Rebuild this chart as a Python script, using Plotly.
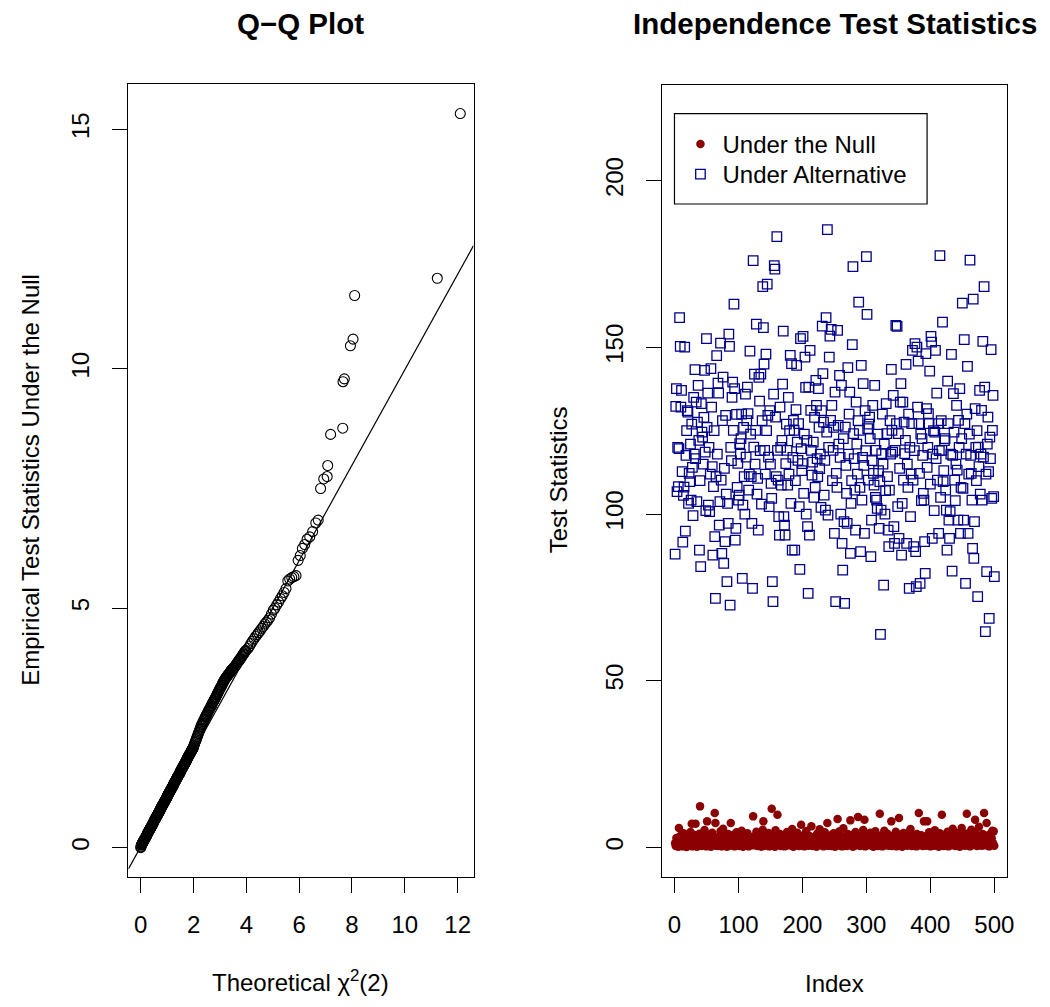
import plotly.graph_objects as go

# ---------------- data ----------------
# Q-Q plot: theoretical chi^2(2) quantiles vs sorted empirical statistics
qq_theoretical = [
    0.00, 0.01, 0.02, 0.03, 0.04, 0.05, 0.06, 0.07, 0.08, 0.09,
    0.10, 0.11, 0.12, 0.13, 0.14, 0.15, 0.16, 0.17, 0.18, 0.19,
    0.20, 0.21, 0.22, 0.23, 0.24, 0.25, 0.26, 0.27, 0.28, 0.29,
    0.30, 0.31, 0.32, 0.33, 0.34, 0.35, 0.36, 0.37, 0.38, 0.39,
    0.40, 0.41, 0.42, 0.43, 0.44, 0.45, 0.46, 0.47, 0.48, 0.49,
    0.50, 0.51, 0.52, 0.53, 0.54, 0.55, 0.56, 0.57, 0.58, 0.59,
    0.60, 0.61, 0.62, 0.63, 0.64, 0.65, 0.66, 0.67, 0.68, 0.69,
    0.70, 0.71, 0.72, 0.73, 0.74, 0.75, 0.76, 0.77, 0.78, 0.79,
    0.80, 0.81, 0.82, 0.83, 0.84, 0.85, 0.86, 0.87, 0.88, 0.89,
    0.90, 0.91, 0.92, 0.93, 0.94, 0.95, 0.96, 0.97, 0.98, 0.99,
    1.00, 1.01, 1.02, 1.03, 1.04, 1.05, 1.06, 1.07, 1.08, 1.09,
    1.10, 1.11, 1.12, 1.13, 1.14, 1.15, 1.16, 1.17, 1.18, 1.19,
    1.20, 1.21, 1.22, 1.23, 1.24, 1.25, 1.26, 1.27, 1.28, 1.29,
    1.30, 1.31, 1.32, 1.33, 1.34, 1.35, 1.36, 1.37, 1.38, 1.39,
    1.40, 1.41, 1.42, 1.43, 1.44, 1.45, 1.46, 1.47, 1.48, 1.49,
    1.50, 1.51, 1.52, 1.53, 1.54, 1.55, 1.56, 1.57, 1.58, 1.59,
    1.60, 1.61, 1.62, 1.63, 1.64, 1.65, 1.66, 1.67, 1.68, 1.69,
    1.70, 1.71, 1.72, 1.73, 1.74, 1.75, 1.76, 1.77, 1.78, 1.79,
    1.80, 1.81, 1.82, 1.83, 1.84, 1.85, 1.86, 1.87, 1.88, 1.89,
    1.90, 1.91, 1.92, 1.93, 1.94, 1.95, 1.96, 1.97, 1.98, 1.99,
    2.00, 2.02, 2.04, 2.06, 2.08, 2.10, 2.12, 2.14, 2.16, 2.18,
    2.20, 2.22, 2.24, 2.26, 2.28, 2.30, 2.32, 2.34, 2.36, 2.38,
    2.40, 2.42, 2.44, 2.46, 2.48, 2.50, 2.52, 2.54, 2.56, 2.58,
    2.60, 2.62, 2.64, 2.66, 2.68, 2.70, 2.72, 2.74, 2.76, 2.78,
    2.80, 2.82, 2.84, 2.86, 2.88, 2.90, 2.92, 2.94, 2.96, 2.98,
    3.00, 3.02, 3.04, 3.06, 3.08, 3.10, 3.12, 3.14, 3.16, 3.18,
    3.20, 3.22, 3.24, 3.26, 3.28, 3.30, 3.32, 3.34, 3.36, 3.38,
    3.40, 3.42, 3.44, 3.46, 3.48, 3.50, 3.52, 3.54, 3.56, 3.58,
    3.60, 3.62, 3.64, 3.66, 3.68, 3.70, 3.72, 3.74, 3.76, 3.78,
    3.80, 3.82, 3.84, 3.86, 3.88, 3.90, 3.92, 3.94, 3.96, 3.98,
    4.06, 4.12, 4.17, 4.23, 4.29, 4.35, 4.41, 4.46, 4.52, 4.58,
    4.64, 4.70, 4.76, 4.82, 4.88, 4.95, 5.02, 5.08, 5.15, 5.22,
    5.29, 5.36, 5.43, 5.50, 5.57, 5.64, 5.72, 5.80, 5.88, 5.96,
    6.04, 6.12, 6.21, 6.30, 6.40, 6.51, 6.63, 6.72,
    6.81, 6.93, 7.06, 7.08, 7.19, 7.65, 7.66, 7.71, 7.94, 8.04, 8.10, 11.23, 12.10,
]
qq_empirical = [
    0.00, 0.02, 0.05, 0.06, 0.07, 0.08, 0.09, 0.10, 0.11, 0.12,
    0.13, 0.14, 0.15, 0.16, 0.17, 0.18, 0.19, 0.20, 0.21, 0.22,
    0.23, 0.24, 0.25, 0.26, 0.27, 0.29, 0.30, 0.31, 0.32, 0.33,
    0.34, 0.35, 0.36, 0.37, 0.38, 0.39, 0.40, 0.41, 0.42, 0.43,
    0.44, 0.45, 0.46, 0.47, 0.48, 0.49, 0.50, 0.51, 0.52, 0.53,
    0.55, 0.56, 0.57, 0.58, 0.59, 0.60, 0.61, 0.62, 0.63, 0.64,
    0.65, 0.66, 0.67, 0.68, 0.69, 0.70, 0.71, 0.72, 0.73, 0.74,
    0.75, 0.76, 0.77, 0.78, 0.79, 0.81, 0.82, 0.83, 0.84, 0.85,
    0.86, 0.87, 0.88, 0.89, 0.90, 0.91, 0.92, 0.93, 0.94, 0.95,
    0.96, 0.97, 0.98, 0.99, 1.00, 1.01, 1.02, 1.03, 1.04, 1.05,
    1.07, 1.08, 1.09, 1.10, 1.11, 1.12, 1.13, 1.14, 1.15, 1.16,
    1.17, 1.18, 1.19, 1.20, 1.21, 1.22, 1.23, 1.24, 1.25, 1.26,
    1.27, 1.28, 1.29, 1.30, 1.31, 1.33, 1.34, 1.35, 1.36, 1.37,
    1.38, 1.39, 1.40, 1.41, 1.42, 1.43, 1.44, 1.45, 1.46, 1.47,
    1.48, 1.49, 1.50, 1.51, 1.52, 1.53, 1.54, 1.55, 1.56, 1.57,
    1.59, 1.60, 1.61, 1.62, 1.63, 1.64, 1.65, 1.66, 1.67, 1.68,
    1.69, 1.70, 1.71, 1.72, 1.73, 1.74, 1.75, 1.76, 1.77, 1.78,
    1.79, 1.80, 1.81, 1.82, 1.83, 1.85, 1.86, 1.87, 1.88, 1.89,
    1.90, 1.91, 1.92, 1.93, 1.94, 1.95, 1.96, 1.97, 1.98, 1.99,
    2.00, 2.01, 2.02, 2.03, 2.04, 2.05, 2.06, 2.07, 2.08, 2.09,
    2.11, 2.14, 2.17, 2.20, 2.23, 2.26, 2.29, 2.32, 2.35, 2.38,
    2.41, 2.44, 2.47, 2.50, 2.53, 2.56, 2.58, 2.60, 2.63, 2.65,
    2.67, 2.69, 2.72, 2.74, 2.76, 2.78, 2.80, 2.83, 2.85, 2.87,
    2.89, 2.91, 2.93, 2.95, 2.97, 3.00, 3.02, 3.04, 3.06, 3.08,
    3.10, 3.12, 3.14, 3.16, 3.19, 3.21, 3.23, 3.25, 3.28, 3.30,
    3.32, 3.34, 3.36, 3.38, 3.40, 3.43, 3.45, 3.47, 3.49, 3.51,
    3.53, 3.54, 3.56, 3.57, 3.59, 3.60, 3.62, 3.63, 3.65, 3.66,
    3.68, 3.69, 3.71, 3.72, 3.73, 3.75, 3.76, 3.77, 3.78, 3.79,
    3.81, 3.83, 3.84, 3.86, 3.88, 3.89, 3.91, 3.92, 3.94, 3.95,
    3.97, 3.99, 4.00, 4.02, 4.04, 4.05, 4.07, 4.09, 4.10, 4.12,
    4.16, 4.21, 4.26, 4.31, 4.36, 4.41, 4.45, 4.49, 4.53, 4.58,
    4.62, 4.67, 4.71, 4.75, 4.80, 4.88, 4.96, 5.00, 5.07, 5.13,
    5.20, 5.26, 5.33, 5.41, 5.57, 5.61, 5.64, 5.66, 5.68, 6.00,
    6.10, 6.25, 6.33, 6.44, 6.49, 6.60, 6.78, 6.84,
    7.50, 7.70, 7.75, 7.98, 8.63, 8.76, 9.73, 9.79, 10.48, 10.62, 11.53, 11.89, 15.33,
]
qq_line_intercept = 0.02
qq_line_slope = 0.996

# Independence test statistics, index 1..500
null_stats = [
    1.2, 0.4, 2.8, 0.9, 1.7, 0.2, 5.8, 1.1, 3.4, 0.6,
    2.1, 0.8, 0.3, 4.2, 1.5, 0.7, 2.6, 1.9, 0.1, 3.1,
    0.5, 1.3, 2.4, 0.9, 4.6, 1.0, 7.1, 0.3, 1.8, 2.2,
    0.6, 3.7, 7.1, 1.4, 0.2, 2.9, 1.1, 0.8, 4.1, 12.3,
    1.6, 0.4, 2.5, 3.3, 0.7, 1.2, 5.2, 0.9, 2.0, 0.3,
    7.8, 1.5, 0.6, 2.7, 1.0, 3.9, 0.2, 1.7, 4.4, 0.8,
    2.3, 1.1, 10.3, 7.3, 0.5, 1.9, 3.0, 0.4, 2.6, 1.3,
    0.7, 4.8, 1.6, 0.3, 2.2, 5.6, 0.9, 1.4, 3.5, 0.6,
    1.8, 0.2, 2.9, 4.0, 1.2, 0.5, 3.2, 7.3, 1.0, 2.4,
    0.8, 1.5, 3.8, 0.3, 2.0, 1.1, 4.5, 0.6, 1.7, 2.7,
    0.4, 3.3, 1.3, 0.9, 5.0, 2.1, 0.2, 1.6, 3.6, 0.7,
    2.5, 1.0, 0.5, 4.2, 1.9, 0.3, 2.8, 1.2, 3.1, 0.8,
    1.4, 2.2, 9.3, 0.6, 1.8, 3.4, 0.9, 4.7, 1.1, 0.4,
    2.6, 1.5, 0.7, 3.9, 1.3, 0.2, 2.0, 5.3, 7.8, 1.0,
    0.5, 2.9, 1.7, 0.8, 3.5, 1.2, 4.3, 0.3, 2.3, 1.6,
    0.9, 11.6, 2.4, 0.6, 1.4, 3.7, 0.2, 5.1, 1.9, 1.1,
    9.8, 0.7, 2.7, 1.3, 4.0, 0.4, 1.8, 3.0, 0.9, 2.2,
    1.5, 0.3, 3.6, 1.0, 2.5, 4.6, 0.6, 1.7, 0.8, 3.2,
    2.0, 1.2, 0.5, 5.5, 1.6, 0.2, 2.8, 1.4, 3.8, 0.7,
    1.1, 4.4, 0.9, 2.3, 0.4, 1.9, 3.3, 6.8, 1.3, 0.6,
    2.6, 1.0, 0.3, 3.9, 1.5, 4.9, 0.8, 2.1, 1.7, 0.5,
    3.4, 1.2, 0.7, 6.3, 2.0, 0.4, 1.6, 3.1, 0.9, 2.7,
    1.3, 0.2, 4.1, 1.8, 0.6, 2.4, 5.4, 1.0, 3.6, 0.8,
    1.5, 2.9, 0.3, 1.1, 4.5, 0.7, 2.2, 1.4, 7.3, 0.5,
    3.0, 1.9, 0.9, 2.5, 0.4, 3.8, 1.2, 0.6, 4.2, 1.7,
    0.2, 2.3, 1.0, 3.5, 8.5, 0.8, 1.6, 4.8, 0.5, 2.0,
    1.3, 0.3, 2.7, 5.7, 1.1, 0.7, 3.2, 1.8, 0.4, 2.4,
    4.0, 0.9, 1.5, 0.6, 8.1, 2.1, 1.2, 3.7, 0.2, 1.9,
    2.8, 0.5, 4.6, 1.4, 0.8, 3.1, 9.1, 1.0, 2.3, 0.4,
    1.7, 3.4, 0.7, 2.0, 5.2, 1.1, 8.3, 0.3, 1.6, 2.9,
    0.6, 1.3, 3.9, 0.9, 2.5, 4.4, 1.2, 0.5, 1.8, 3.3,
    0.2, 2.2, 1.0, 4.8, 0.7, 1.5, 3.0, 0.4, 2.6, 1.1,
    10.1, 0.8, 1.9, 3.6, 0.3, 2.4, 1.4, 5.0, 0.6, 1.2,
    2.7, 0.9, 4.1, 1.6, 0.5, 3.2, 1.0, 2.1, 7.8, 0.4,
    1.8, 3.5, 0.7, 2.3, 1.2, 4.7, 0.3, 1.5, 2.8, 0.9,
    8.8, 1.1, 0.6, 3.8, 1.7, 0.2, 2.5, 4.3, 1.0, 0.8,
    2.0, 1.4, 3.1, 0.5, 1.9, 0.9, 4.6, 2.6, 5.5, 1.2,
    0.4, 2.9, 1.6, 0.7, 3.4, 1.1, 2.2, 0.3, 4.0, 1.8,
    0.6, 10.3, 1.3, 2.7, 0.9, 3.6, 1.5, 0.4, 2.1, 7.8,
    1.0, 3.2, 0.5, 1.7, 7.8, 2.4, 0.8, 4.5, 1.2, 0.3,
    2.6, 1.4, 0.7, 3.9, 1.9, 0.5, 5.1, 1.1, 2.3, 0.9,
    1.6, 3.0, 0.2, 2.0, 4.2, 1.3, 0.6, 9.8, 1.8, 2.8,
    0.4, 1.2, 3.5, 0.8, 2.2, 1.5, 4.7, 0.3, 1.9, 3.3,
    1.0, 0.6, 2.5, 1.4, 5.6, 0.9, 3.1, 1.7, 0.4, 2.1,
    4.3, 1.1, 0.7, 2.9, 1.5, 0.2, 3.7, 1.3, 5.8, 0.8,
    2.4, 1.0, 3.4, 0.5, 1.8, 4.1, 10.1, 0.6, 2.0, 1.2,
    3.8, 0.3, 1.6, 5.3, 0.9, 2.6, 1.4, 0.7, 4.5, 8.3,
    1.1, 2.2, 0.4, 3.6, 1.7, 6.2, 0.8, 2.9, 1.3, 0.5,
    2.5, 4.0, 1.0, 10.3, 0.6, 3.2, 1.5, 7.3, 0.9, 2.1,
    1.4, 0.3, 3.9, 1.8, 0.7, 2.7, 5.0, 1.2, 4.8, 0.5,
]
alt_stats = [
    88, 132.3, 137.6, 106.7, 120, 108.2, 119.6, 158.9, 150.3, 132.1,
    137.1, 112.7, 91.6, 105.6, 108.1, 150.1, 94.9, 117.6, 125, 131,
    130.6, 103.2, 112.2, 109.7, 121, 104.2, 127, 114, 99.5, 135,
    118, 143.3, 116.6, 133.6, 103.7, 127.6, 138.6, 122.1, 89.2, 110,
    84.2, 133.1, 124.6, 123.1, 115, 129, 143.1, 118.6, 101, 152.6,
    126, 136.3, 102.7, 120, 100.7, 112, 143.6, 132.1, 114.2, 87.7,
    108.2, 125, 93.2, 74.7, 111.2, 147.5, 118, 139.3, 136.3, 96.7,
    103.7, 151.3, 110.2, 88.2, 128, 141.1, 85.2, 113.7, 91.7, 129.6,
    106, 79.7, 103.2, 97.2, 154, 150.3, 72.7, 120, 116, 135,
    139.6, 125.1, 163, 137.6, 92.2, 95.7, 129.9, 108, 115.2, 104.2,
    105.7, 121.1, 118, 122.6, 130, 80.7, 102.7, 126, 111.2, 100,
    136, 117.1, 128, 138.1, 130.1, 107.2, 112, 148.9, 124, 111.2,
    97.2, 77.7, 176, 120.1, 142, 115, 125.1, 157, 106, 110.7,
    95.2, 141, 133.9, 119, 142, 103, 128, 168.2, 155.9, 145,
    119.1, 112, 148, 125, 169, 129.6, 117.1, 102.2, 131, 115,
    109.2, 104.7, 79.7, 73.7, 136, 174.5, 173.5, 129.1, 111.2, 183.2,
    119.1, 110.2, 99.2, 93.7, 132.1, 120, 108.7, 122.1, 139, 154.9,
    99.2, 96.7, 93.7, 115.1, 127, 119.1, 108.7, 135, 112, 125,
    147.6, 103.2, 145.1, 89.2, 117, 128.1, 125.1, 89.2, 110, 131.3,
    144.6, 121.6, 116.1, 127.1, 102.2, 83.4, 152.6, 119.6, 113, 115.1,
    153.3, 106.2, 124, 147.1, 138, 100, 122.1, 96.2, 76.2, 138.1,
    93.7, 149.1, 131.1, 119.1, 111.7, 115.6, 121.6, 105, 129, 108,
    140.1, 132.6, 116.6, 111.2, 137.6, 126, 113.6, 118, 102, 131,
    156.4, 142.1, 127.6, 105.7, 116.1, 101.2, 158.9, 124.6, 185.3, 99.7,
    120, 147.1, 153.4, 128.1, 155.4, 132.6, 110, 119.1, 126, 94.2,
    136.6, 73.7, 112.2, 108, 155.1, 126.6, 121, 141.6, 117, 100,
    138.6, 91.2, 83.2, 122.6, 97.7, 73.2, 126.1, 114.6, 106.2, 97.2,
    143.9, 118, 130, 136.6, 88.2, 103.2, 110, 150.8, 174.2, 124.1,
    116.6, 107.2, 95.2, 133.6, 121, 112, 128, 163.6, 125.1, 108,
    88.7, 144.6, 104.2, 117, 139.1, 114.6, 94.2, 131, 119, 177.2,
    159.9, 125.6, 110.2, 127, 129.1, 122.6, 87.2, 98.2, 116, 132.6,
    112.2, 108.7, 138.6, 105, 119.1, 104.2, 101.7, 124, 113, 95.7,
    109.7, 63.9, 101.2, 118.1, 130, 115, 78.7, 121, 100, 107,
    133.1, 124.1, 111.2, 95.2, 90.2, 107.2, 128, 118, 143.4, 125.1,
    118.6, 135.6, 96.2, 91.2, 119.1, 156.6, 127.1, 156.3, 102.2, 124.1,
    92.7, 113.7, 133.6, 139.1, 87.7, 103.2, 133.6, 110.2, 127.6, 118.1,
    122.1, 144.9, 91.2, 115, 108, 130, 77.7, 120, 99.2, 112,
    127.1, 149.1, 110.2, 90.2, 119, 151.1, 88.7, 78.2, 150.1, 132.1,
    145.9, 127.1, 112.2, 79.2, 124, 104, 122.6, 117.6, 106.2, 104.2,
    91.7, 82.2, 148.1, 131.6, 114, 120, 130.1, 127.1, 142.9, 109,
    153.3, 151.6, 92.7, 118, 125, 101, 124.6, 149.1, 116.6, 136.3,
    110.2, 127.1, 94.2, 119, 177.5, 105, 128, 119.1, 157.6, 109.7,
    113, 122, 122.6, 107.2, 101.2, 89.2, 139.9, 127.1, 98.2, 92.7,
    100.7, 118, 147.9, 82.9, 117.6, 136.1, 124.6, 110.2, 104, 115,
    132.6, 113.2, 98.2, 128.1, 120, 137.6, 94.2, 108, 122.6, 163.3,
    107.7, 98.2, 152.3, 127.1, 79.2, 118, 130, 144.3, 94.2, 112,
    124, 176.2, 117.6, 112.2, 104.2, 89.7, 164.5, 86.7, 97.7, 131.6,
    120, 110, 125, 75.2, 120.1, 114.2, 137.1, 106, 118, 131.1,
    104.2, 151.8, 117.1, 168.2, 138.1, 64.7, 112, 82.7, 121, 129.1,
    112.7, 68.7, 123.1, 116.6, 149.3, 104.7, 125.1, 135.6, 105.2, 81.2,
]
index = list(range(1, len(alt_stats) + 1))

qq_xticks = [0, 2, 4, 6, 8, 10, 12]
qq_yticks = [0, 5, 10, 15]
idx_xticks = [0, 100, 200, 300, 400, 500]
stat_yticks = [0, 50, 100, 150, 200]

# ---------------- layout helpers ----------------
W, H = 1050, 1007
FONT = "Liberation Sans, Arial, Helvetica, sans-serif"
NULL_COL = "#8B0000"
ALT_COL = "#00008B"


def fx(p):
    return p / W


def fy(p):
    return 1 - p / H


qq_xrange = [-0.466, 12.602]
qq_yrange = [-0.606, 15.947]
idx_range = [-19.1, 520.2]
stat_range = [-8.8, 228.8]

fig = go.Figure()

fig.add_trace(go.Scatter(
    x=qq_theoretical, y=qq_empirical, mode="markers",
    marker=dict(symbol="circle-open", size=10, color="black", line=dict(width=1.1)),
    xaxis="x", yaxis="y", showlegend=False, hoverinfo="skip"))

line_x = qq_xrange
line_y = [qq_line_intercept + qq_line_slope * v for v in line_x]
fig.add_trace(go.Scatter(
    x=line_x, y=line_y, mode="lines", line=dict(color="black", width=1.2),
    xaxis="x", yaxis="y", showlegend=False, hoverinfo="skip"))

fig.add_trace(go.Scatter(
    x=index, y=null_stats, mode="markers", name="Under the Null",
    marker=dict(symbol="circle", size=8.5, color=NULL_COL),
    xaxis="x2", yaxis="y2", legend="legend"))
fig.add_trace(go.Scatter(
    x=index, y=alt_stats, mode="markers", name="Under Alternative",
    marker=dict(symbol="square-open", size=9.5, color=ALT_COL, line=dict(width=1.3)),
    xaxis="x2", yaxis="y2", legend="legend2"))

axis_common = dict(
    showline=True, linecolor="black", linewidth=1.2, mirror=True,
    ticks="outside", ticklen=15, tickwidth=1.2, tickcolor="black",
    showgrid=False, zeroline=False,
    tickfont=dict(family=FONT, size=24, color="black"),
)

legend_common = dict(xanchor="left", yanchor="top", bgcolor="rgba(0,0,0,0)",
                     borderwidth=0, itemwidth=34, itemclick=False,
                     font=dict(family=FONT, size=24, color="black"))

fig.update_layout(
    height=H, autosize=True,
    margin=dict(l=0, r=0, t=0, b=0),
    paper_bgcolor="white", plot_bgcolor="white",
    font=dict(family=FONT, size=24, color="black"),
    xaxis=dict(domain=[fx(129.3), fx(476.7)], range=qq_xrange, tickvals=qq_xticks,
               anchor="y", ticklabelstandoff=11, **axis_common),
    yaxis=dict(domain=[fy(876.7), fy(84.0)], range=qq_yrange, tickvals=qq_yticks,
               anchor="x", tickangle=-90, ticklabelstandoff=14, **axis_common),
    xaxis2=dict(domain=[fx(666.7), fx(1014.0)], range=idx_range, tickvals=idx_xticks,
                anchor="y2", ticklabelstandoff=11, **axis_common),
    yaxis2=dict(domain=[fy(876.7), fy(84.7)], range=stat_range, tickvals=stat_yticks,
                anchor="x2", tickangle=-90, ticklabelstandoff=14, **axis_common),
    showlegend=True,
    legend=dict(x=fx(683), y=fy(122), **legend_common),
    legend2=dict(x=fx(683), y=fy(152), **legend_common),
    shapes=[dict(type="rect", xref="paper", yref="paper",
                 x0=fx(679), x1=fx(933.3), y0=fy(204), y1=fy(113.7),
                 line=dict(color="black", width=1.2))],
)

annots = [
    dict(text="<b>Q\u2212Q Plot</b>", x=fx(303), y=fy(23), size=29.5, angle=0),
    dict(text="<b>Independence Test Statistics</b>", x=fx(840.3), y=fy(23), size=29.5, angle=0),
    dict(text="Theoretical \u03c7<sup>2</sup>(2)", x=fx(303), y=fy(981), size=24, angle=0),
    dict(text="Index", x=fx(840.3), y=fy(983), size=24, angle=0),
    dict(text="Empirical Test Statistics Under the Null", x=fx(31), y=fy(480), size=24, angle=-90),
    dict(text="Test Statistics", x=fx(563), y=fy(480), size=24, angle=-90),
]
for a in annots:
    fig.add_annotation(text=a["text"], x=a["x"], y=a["y"], xref="paper", yref="paper",
                       xanchor="center", yanchor="middle", showarrow=False,
                       textangle=a["angle"], font=dict(family=FONT, size=a["size"], color="black"))

fig.write_html(
    "out.html",
    config={"displayModeBar": False},
    post_script=(
        "document.documentElement.style.overflow='hidden';"
        "document.body.style.overflow='hidden';"
        "document.body.style.margin='0';"
        "var gd=document.getElementById('{plot_id}');"
        "Plotly.relayout(gd,{width:document.documentElement.clientWidth});"
    ),
)
